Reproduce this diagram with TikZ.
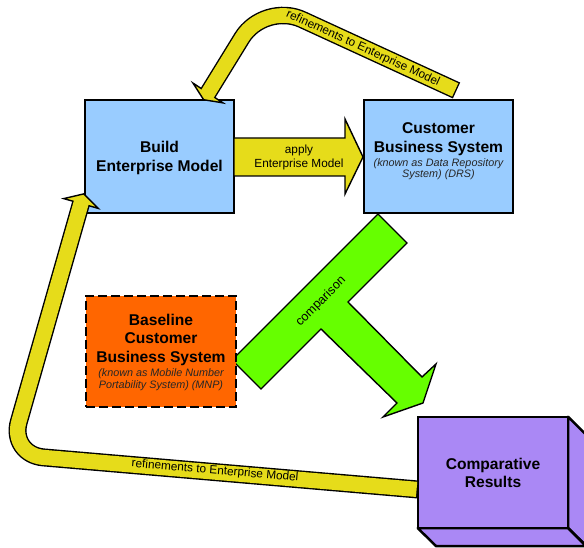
\documentclass[tikz,border=0pt]{standalone}
\usepackage{fontspec}
\setmainfont{Liberation Sans}
\definecolor{boxblue}{HTML}{99CCFF}
\definecolor{band}{HTML}{E6DC1A}
\definecolor{orng}{HTML}{FF6600}
\definecolor{purp}{HTML}{AA88F5}
\definecolor{grn}{HTML}{66FF00}
\tikzset{
  box/.style={draw=black, line width=2.5pt, minimum width=149pt, minimum height=113pt, inner sep=0pt},
  boldtxt/.style={font=\fontsize{15.6}{19}\selectfont\bfseries, align=center, inner sep=0pt},
  italtxt/.style={font=\fontsize{10.8}{11.5}\selectfont\itshape, align=center, inner sep=0pt, text=black!85},
  lbl/.style={font=\fontsize{11.8}{14}\selectfont, align=center, inner sep=0pt},
  shapeout/.style={draw=black, line width=1.4pt},
  bandout/.style={draw=black, line width=18pt, line join=round, line cap=butt},
  bandin/.style={draw=band, line width=15.2pt, line join=round, line cap=butt},
}
\begin{document}
\begin{tikzpicture}[x=1pt,y=-1pt]
\useasboundingbox (0,0) rectangle (584,548);

% green comparison T-arrow
\path[fill=grn, shapeout] (378,214) -- (407,243) -- (348,302) -- (422,377) -- (436,364)
  -- (423,403) -- (383,417) -- (397,403) -- (321,329) -- (261,389) -- (232,360) -- cycle;
\node[lbl, font=\fontsize{12.5}{14}\selectfont, rotate=45] (cmplbl) at (321,301.5) {comparison};

% boxes
\node[box, fill=boxblue] (build) at (159.5,156.5) {};
\node[box, fill=boxblue] (cust) at (438.5,156.5) {};
\node[box, fill=orng, line width=2.2pt, dash pattern=on 9pt off 4pt,
      minimum width=150pt, minimum height=111pt] (base) at (161,351.5) {};

% 3D results box
\node[inner sep=0pt, minimum width=150pt, minimum height=111pt] (comp) at (493,472.5) {};
\path[fill=purp, draw=black, line width=2.5pt, line join=round]
  (comp.north east) -- ++(18,18) -- ++(0,111) -- (comp.south east) -- cycle;
\path[fill=purp, draw=black, line width=2.5pt, line join=round]
  (comp.south west) -- (comp.south east) -- ++(18,18) -- ++(-150,0) -- cycle;
\node[draw=black, fill=purp, line width=2.5pt, inner sep=0pt,
      minimum width=150pt, minimum height=111pt] (compf) at (493,472.5) {};

% apply arrow
\path[fill=band, shapeout] (234,138) -- (345,138) -- (345,119) -- (363,157)
  -- (345,194) -- (345,176) -- (234,176) -- cycle;

% texts in boxes
\node[boldtxt] (buildtxt) at (159.5,158.3) {Build\\Enterprise Model};
\node[boldtxt] (custtxt) at (438.5,138.9) {Customer\\Business System};
\node[italtxt] (custsub) at (438.5,169) {(known as Data Repository\\System) (DRS)};
\node[lbl] (applytxt) at (299,157.2) {apply\\Enterprise Model};
\node[boldtxt, font=\fontsize{15.6}{18.7}\selectfont\bfseries] (basetxt) at (161,339.8)
  {Baseline\\Customer\\Business System};
\node[italtxt] (basesub) at (161,379.7) {(known as Mobile Number\\Portability System) (MNP)};
\node[boldtxt, font=\fontsize{15.6}{18.3}\selectfont\bfseries] (comptxt) at (493,472.6)
  {Comparative\\Results};

% top refinement arrow (Customer -> Build)
\coordinate (t1) at (456.5,90.5);
\coordinate (t2) at (264,2);
\coordinate (t3) at (208,93);
\path[fill=band, shapeout, line join=miter] (193,83.1) -- (203.6,99.7) -- (223,102.9) -- cycle;
\draw[bandout, line width=17.5pt, rounded corners=42pt] (t1) -- (t2) -- (t3);
\draw[bandin, line width=14.7pt, rounded corners=42pt, shorten <=1.4pt, shorten >=-2.5pt] (t1) -- (t2) -- (t3);
\node[lbl, rotate=-24.5] (toplbl) at (363,48.5) {refinements to Enterprise Model};

% bottom refinement arrow (Results -> Build)
\coordinate (b1) at (418,489.5);
\coordinate (b2) at (9.5,454.5);
\coordinate (b3) at (81,203.5);
\path[fill=band, shapeout, line join=miter] (63.7,198.6) -- (83.7,193.9) -- (98.3,208.4) -- cycle;
\draw[bandout, rounded corners=34pt] (b1) -- (b2) -- (b3);
\draw[bandin, rounded corners=34pt, shorten <=1.4pt, shorten >=-2.5pt] (b1) -- (b2) -- (b3);
\node[lbl, rotate=-4.9] (botlbl) at (215,471) {refinements to Enterprise Model};
\end{tikzpicture}
\end{document}
